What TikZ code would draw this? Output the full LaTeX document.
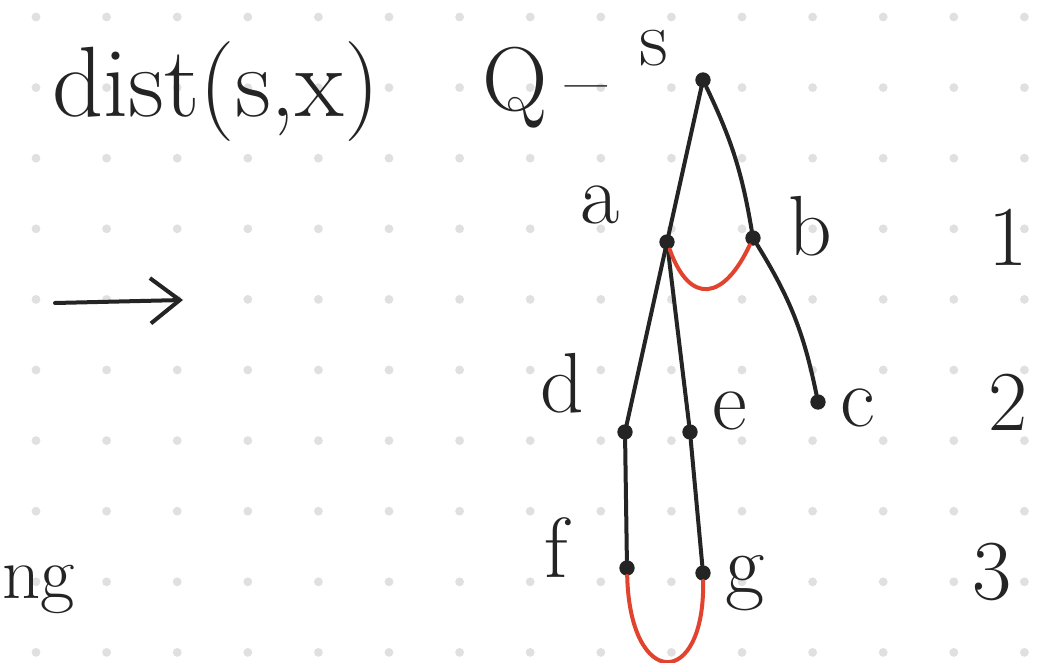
\documentclass[tikz,border=0pt]{standalone}
\usetikzlibrary{arrows.meta, positioning}
\definecolor{InkBlack}{HTML}{242424}
\definecolor{InkRed}{HTML}{E2432F}
\definecolor{GridDot}{HTML}{E0E0E0}

\tikzset{
  vertex/.style={circle, fill=InkBlack, inner sep=0pt, minimum size=11.5pt},
  edge/.style={draw=InkBlack, line width=3pt, line cap=round},
  redarc/.style={draw=InkRed, line width=3pt, line cap=round},
  hand/.style={text=InkBlack, inner sep=0pt, font=\fontsize{64}{70}\selectfont},
}

\begin{document}
\begin{tikzpicture}[x=0.75pt, y=0.75pt]
  \useasboundingbox (0,0) rectangle (1063,-663);
  \fill[white] (0,0) rectangle (1063,-663);
  \foreach \i in {0,...,14}
    \foreach \j in {0,...,9}
      \fill[GridDot] ({36+70.6*\i},{-17-70.6*\j}) circle[radius=3.3pt];

  \node[hand, font=\fontsize{75}{80}\selectfont] (formula) at (216,-92) {dist(s,x)};
  \node[hand, font=\fontsize{68}{72}\selectfont] (queue) at (545,-88) {Q\hspace{0.2em}--};
  \node[hand, font=\fontsize{56}{60}\selectfont, anchor=base west] (cutword) at (2,-598) {ng};

  \coordinate (arrowtail) at (55,-303);
  \coordinate (arrowtip) at (183,-300);
  \draw[edge, -{Straight Barb[length=22pt, width=34pt]}] (arrowtail) -- (arrowtip);

  \node[vertex] (s) at (703,-80) {};
  \node[vertex] (a) at (667,-242) {};
  \node[vertex] (b) at (753,-238) {};
  \node[vertex] (c) at (818,-402) {};
  \node[vertex] (d) at (625,-432) {};
  \node[vertex] (e) at (690,-432) {};
  \node[vertex] (f) at (627,-568) {};
  \node[vertex] (g) at (703,-573) {};

  \node[hand, font=\fontsize{60}{64}\selectfont] (ls) at (654,-48) {s};
  \node[hand] (la) at (600,-205) {a};
  \node[hand] (lb) at (810,-226) {b};
  \node[hand] (lc) at (858,-408) {c};
  \node[hand] (ld) at (562,-383) {d};
  \node[hand] (le) at (730,-411) {e};
  \node[hand] (lf) at (556,-548) {f};
  \node[hand] (lg) at (745,-583) {g};

  \node[hand] (level1) at (1008,-237) {1};
  \node[hand] (level2) at (1008,-402) {2};
  \node[hand] (level3) at (992,-572) {3};

  \draw[edge] (s) -- (a);
  \draw[edge] (s) to[bend left=8] (b);
  \draw[edge] (b) to[bend left=10] (c);
  \draw[edge] (a) -- (d);
  \draw[edge] (a) -- (e);
  \draw[edge] (d) -- (f);
  \draw[edge] (e) -- (g);
  \draw[redarc] (a) .. controls (690,-306) and (724,-300) .. (b);
  \draw[redarc] (f) .. controls (630,-690) and (705,-690) .. (g);
\end{tikzpicture}
\end{document}
